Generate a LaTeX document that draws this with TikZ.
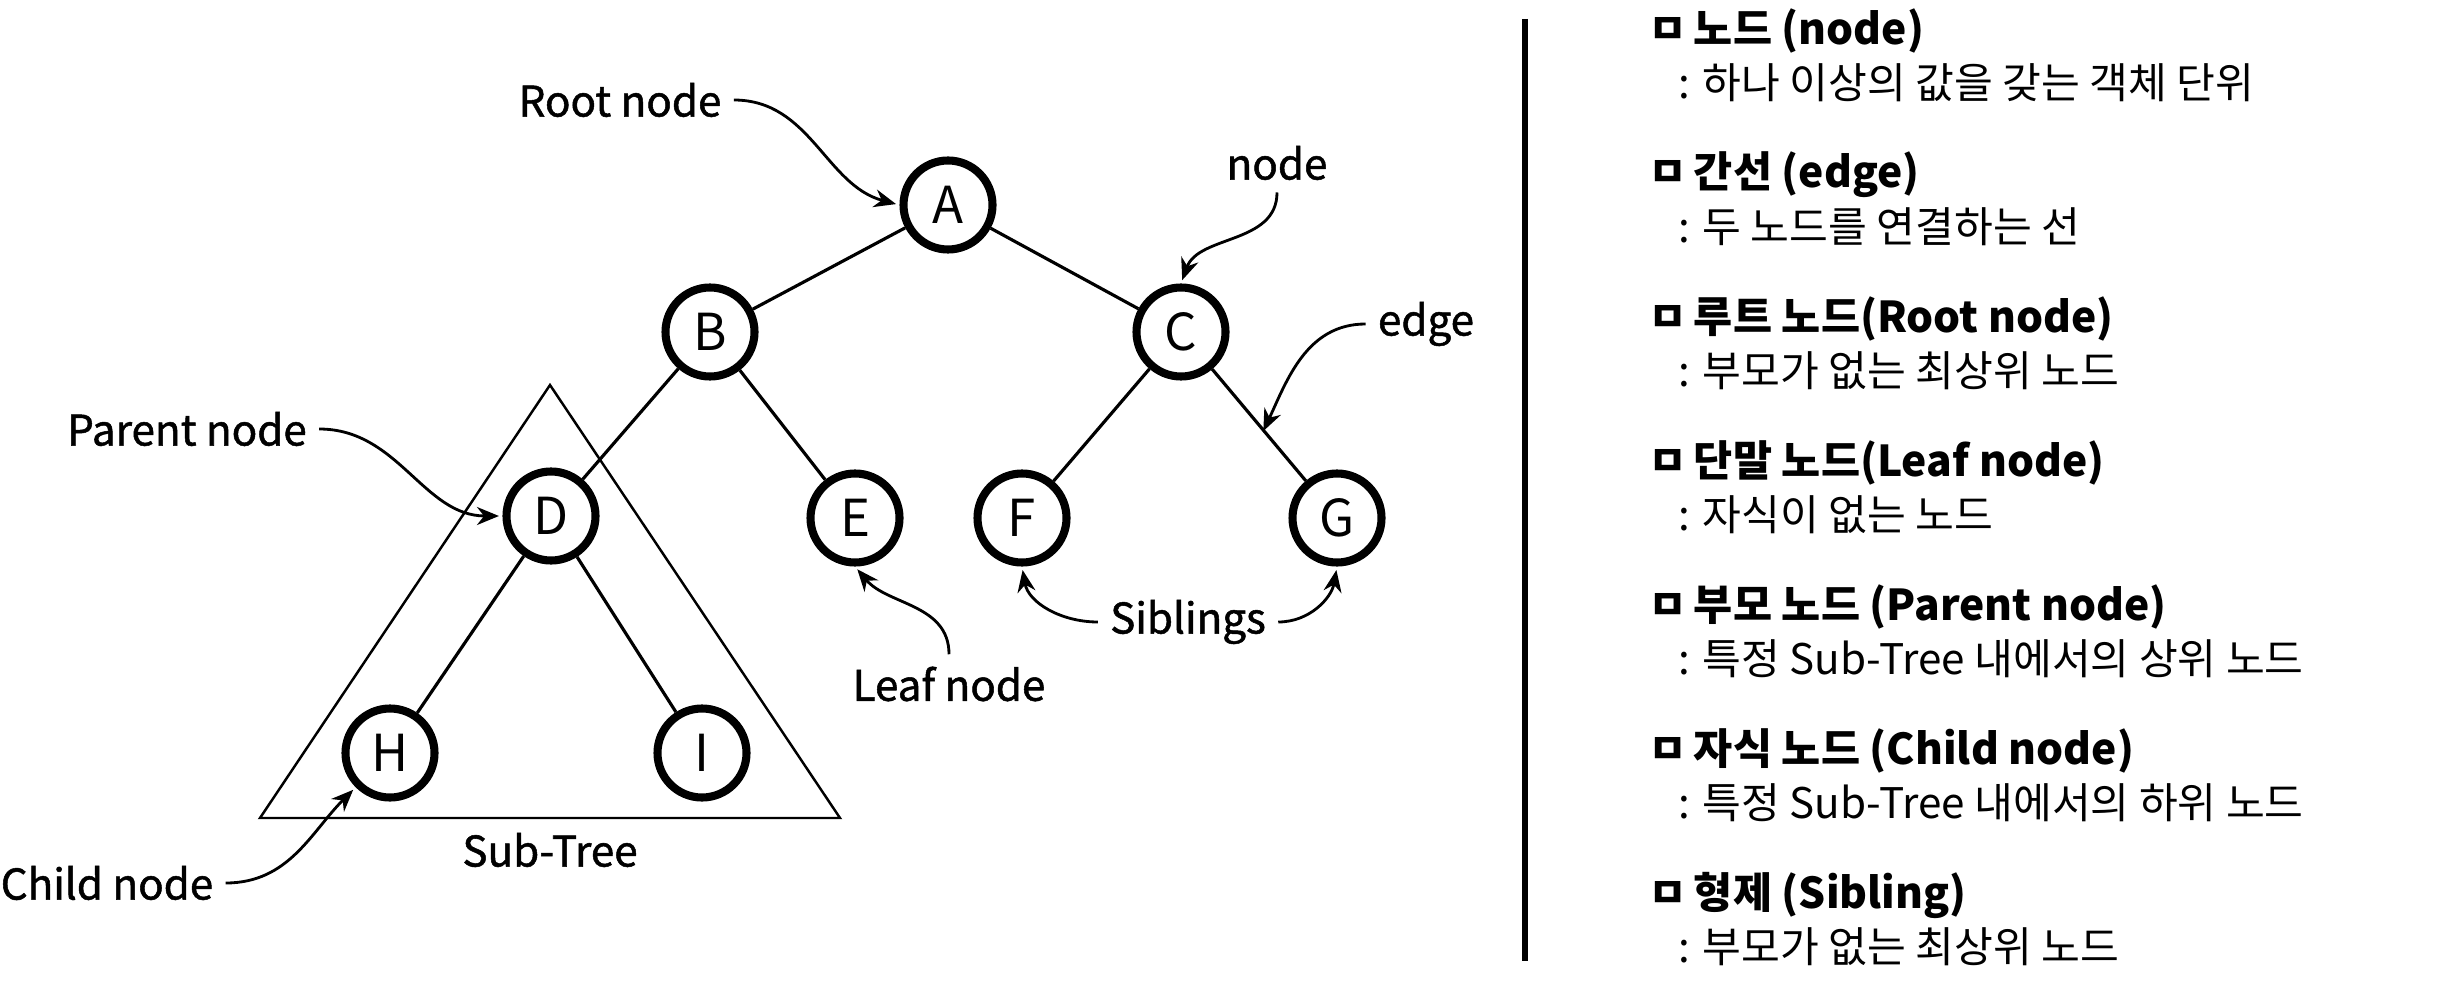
\documentclass[tikz,border=0pt]{standalone}
\usepackage{fontspec}
\setmainfont{Noto Sans CJK KR}
\newfontfamily\labelfont[FakeBold=1.2]{Noto Sans CJK KR}
\usetikzlibrary{arrows.meta, positioning, calc}

\begin{document}
\begin{tikzpicture}[
    >={Stealth[length=2.2mm, width=1.8mm]},
    every node/.style={font=\labelfont\fontsize{12}{14}\selectfont},
    treenode/.style={circle, draw=black, line width=2.3pt, fill=white,
        minimum size=0.89cm, inner sep=0pt, font=\fontsize{14.5}{16}\selectfont},
    treeedge/.style={line width=0.9pt},
    callout/.style={->, line width=0.8pt, shorten >=1pt},
    termhead/.style={anchor=west, font=\fontsize{12.1}{14}\selectfont\bfseries},
    termdesc/.style={anchor=west, font=\fontsize{12}{14}\selectfont},
]
\useasboundingbox (0,0) rectangle (24.46,-9.82);

% === SUB-TREE TRIANGLE ===
\coordinate (tri_top) at (5.50,-3.85);
\coordinate (tri_left) at (2.60,-8.18);
\coordinate (tri_right) at (8.40,-8.18);
\draw[line width=0.7pt] (tri_top) -- (tri_left) -- (tri_right) -- cycle;
\node (subtree) at (5.50,-8.50) {Sub-Tree};

% === TREE NODES ===
\node[treenode] (A) at (9.48,-2.05) {A};
\node[treenode] (B) at (7.10,-3.32) {B};
\node[treenode] (C) at (11.81,-3.32) {C};
\node[treenode] (D) at (5.51,-5.16) {D};
\node[treenode] (E) at (8.55,-5.18) {E};
\node[treenode] (F) at (10.22,-5.18) {F};
\node[treenode] (G) at (13.37,-5.18) {G};
\node[treenode] (H) at (3.90,-7.53) {H};
\node[treenode] (I) at (7.02,-7.53) {I};

% === EDGES ===
\draw[treeedge] (A) -- (B);
\draw[treeedge] (A) -- (C);
\draw[treeedge] (B) -- (D);
\draw[treeedge] (B) -- (E);
\draw[treeedge] (C) -- (F);
\draw[treeedge] (C) -- (G);
\draw[treeedge] (D) -- (H);
\draw[treeedge] (D) -- (I);

% === CALLOUT LABELS ===
\node (root_lbl) at (6.20,-1.00) {Root node};
\node (node_lbl) at (12.77,-1.63) {node};
\node (edge_lbl) at (14.26,-3.24) {edge};
\node (parent_lbl) at (1.87,-4.29) {Parent node};
\node (leaf_lbl) at (9.49,-6.84) {Leaf node};
\node (sib_lbl) at (11.88,-6.22) {Siblings};
\node (child_lbl) at (1.07,-8.83) {Child node};

\coordinate (edge_pt) at ($(C)!0.55!(G)+(-0.05,0)$);

\draw[callout] (root_lbl.east) to[out=0, in=165] (A.west);
\draw[callout] (node_lbl.south) to[out=-90, in=70] (C.north);
\draw[callout] (edge_lbl.west) to[out=180, in=65] (edge_pt);
\draw[callout] (parent_lbl.east) to[out=0, in=180] (D.west);
\draw[callout] (leaf_lbl.north) to[out=90, in=-50] (E.south);
\draw[callout] (sib_lbl.west) to[out=180, in=-80] (F.south);
\draw[callout] (sib_lbl.east) to[out=0, in=-100] (G.south);
\draw[callout] (child_lbl.east) to[out=0, in=225] (H.south west);

% === DIVIDER ===
\draw[line width=1.7pt] (15.25,-0.19) -- (15.25,-9.61);

% === TERM LIST ===
\node[termhead] (t_node) at (16.36,-0.31) {ㅁ\hspace{0.15em}노드 (node)};
\node[termdesc] (d_node) at (16.66,-0.83) {: 하나 이상의 값을 갖는 객체 단위};
\node[termhead] (t_edge) at (16.36,-1.75) {ㅁ\hspace{0.15em}간선 (edge)};
\node[termdesc] (d_edge) at (16.66,-2.27) {: 두 노드를 연결하는 선};
\node[termhead] (t_root) at (16.36,-3.19) {ㅁ\hspace{0.15em}루트 노드(Root node)};
\node[termdesc] (d_root) at (16.66,-3.71) {: 부모가 없는 최상위 노드};
\node[termhead] (t_leaf) at (16.36,-4.63) {ㅁ\hspace{0.15em}단말 노드(Leaf node)};
\node[termdesc] (d_leaf) at (16.66,-5.15) {: 자식이 없는 노드};
\node[termhead] (t_parent) at (16.36,-6.07) {ㅁ\hspace{0.15em}부모 노드 (Parent node)};
\node[termdesc] (d_parent) at (16.66,-6.59) {: 특정 Sub-Tree 내에서의 상위 노드};
\node[termhead] (t_child) at (16.36,-7.51) {ㅁ\hspace{0.15em}자식 노드 (Child node)};
\node[termdesc] (d_child) at (16.66,-8.03) {: 특정 Sub-Tree 내에서의 하위 노드};
\node[termhead] (t_sib) at (16.36,-8.95) {ㅁ\hspace{0.15em}형제 (Sibling)};
\node[termdesc] (d_sib) at (16.66,-9.47) {: 부모가 없는 최상위 노드};

\end{tikzpicture}
\end{document}
